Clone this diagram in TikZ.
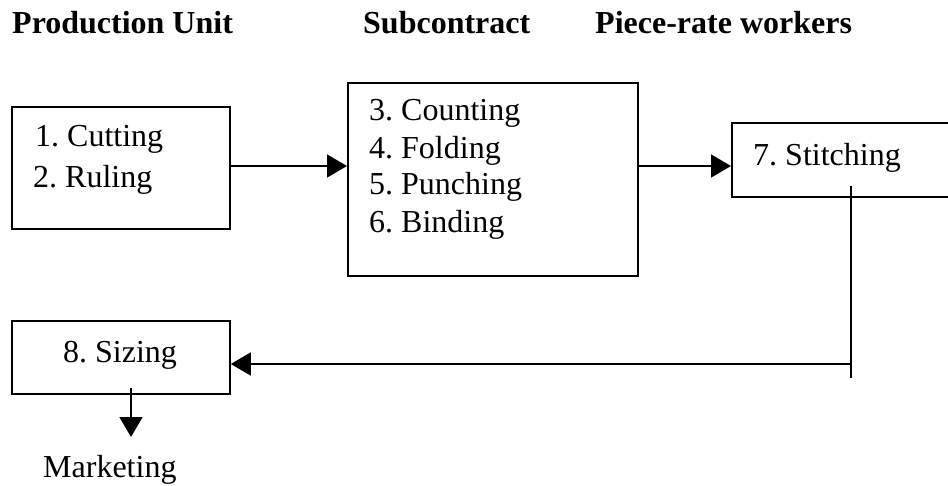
\documentclass[tikz,border=0pt]{standalone}
\usepackage{fontspec}
\setmainfont{Liberation Serif}
\usetikzlibrary{arrows.meta}
\begin{document}
\begin{tikzpicture}[x=1pt,y=-1pt,
  box/.style={draw,line width=1.8pt,inner sep=0pt,anchor=north west},
  lbl/.style={inner sep=0pt,anchor=base west,font=\fontsize{32}{38}\selectfont\frenchspacing},
  head/.style={inner sep=0pt,anchor=base west,font=\fontsize{32}{38}\selectfont\bfseries},
  link/.style={line width=1.8pt,-{Triangle[length=20pt 0,width=23pt 0]}},
  plain/.style={line width=1.8pt}]
\useasboundingbox (0,0) rectangle (948,485);
\clip (0,0) rectangle (948,485);

% column headings
\node[head] (h1) at (12,33) {Production Unit};
\node[head] (h2) at (363,33) {Subcontract};
\node[head] (h3) at (595,33) {Piece-rate workers};

% boxes
\node[box,minimum width=218pt,minimum height=122pt] (b1) at (11,106) {};
\node[box,minimum width=290pt,minimum height=193pt] (b2) at (347,82) {};
\node[box,minimum width=260pt,minimum height=74pt] (b3) at (731,122) {};
\node[box,minimum width=218pt,minimum height=73pt] (b4) at (11,320) {};

% box contents
\node[lbl] (t1) at (35,146) {1. Cutting};
\node[lbl] (t2) at (33,187) {2. Ruling};
\node[lbl] (t3) at (369,120) {3. Counting};
\node[lbl] (t4) at (369,158) {4. Folding};
\node[lbl] (t5) at (369,194) {5. Punching};
\node[lbl] (t6) at (369,232) {6. Binding};
\node[lbl] (t7) at (753,165) {7. Stitching};
\node[lbl] (t8) at (63,362) {8. Sizing};
\node[lbl] (t9) at (43,477) {Marketing};

% helper points for the connectors
\coordinate (r1) at (0,166);
\coordinate (r2) at (0,166);
\coordinate (s1) at (851,186);
\coordinate (s2) at (851,378);
\coordinate (j)  at (851,364);
\coordinate (d1) at (131,388);
\coordinate (d2) at (131,437);

% connectors
\draw[link] (b1.east |- r1) -- (b2.west |- r1);
\draw[link] (b2.east |- r2) -- (b3.west |- r2);
\draw[plain] (s1) -- (s2);
\draw[link] (j) -- (j -| b4.east);
\draw[link] (d1) -- (d2);
\end{tikzpicture}
\end{document}
